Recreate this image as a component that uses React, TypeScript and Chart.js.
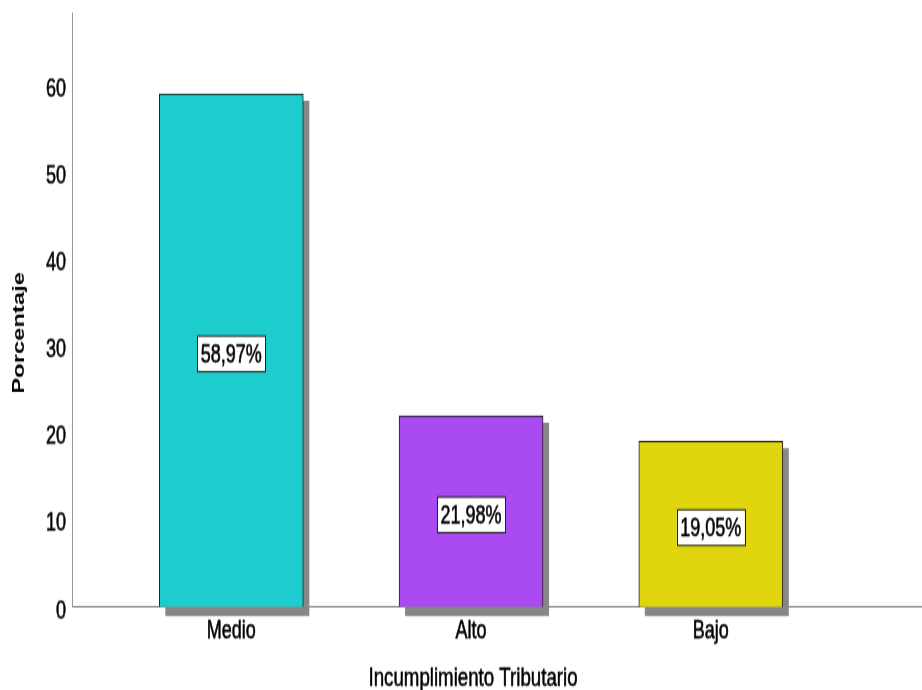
import React, { useEffect, useRef } from 'react';
import { Chart, registerables } from 'chart.js';

Chart.register(...registerables);

// ---- data ----
const categories = ['Medio', 'Alto', 'Bajo'];
const positions = [1, 2, 3];
const percentages = [58.97, 21.98, 19.05];
const barColors = ['#1dcdcd', '#a94bf0', '#e1d60e'];
const yTickStep = 10;
const yMax = 68.2;
const xTitle = 'Incumplimiento Tributario';
const yTitle = 'Porcentaje';

// ---- layout ----
const W = 922;
const H = 690;
const IH = 493; // internal canvas height, stretched vertically to H
const FONT = '"Liberation Sans", Arial, Helvetica, sans-serif';
const STROKE = 0.45;

const fmt = (v: number) => v.toFixed(2).replace('.', ',') + '%';

const drawText = (ctx: CanvasRenderingContext2D, text: string, x: number, y: number) => {
  ctx.lineWidth = STROKE;
  ctx.strokeStyle = '#000000';
  ctx.strokeText(text, x, y);
  ctx.fillText(text, x, y);
};

const shadowPlugin = {
  id: 'barShadow',
  beforeDatasetsDraw(chart: any) {
    const ctx = chart.ctx;
    const meta = chart.getDatasetMeta(0);
    ctx.save();
    ctx.fillStyle = '#878787';
    meta.data.forEach((bar: any) => {
      const { x, y, base, width } = bar.getProps(['x', 'y', 'base', 'width'], true);
      ctx.fillRect(x - width / 2 + 6, y + 5, width, base - y + 1.5);
    });
    ctx.restore();
  },
};

const labelPlugin = {
  id: 'barLabels',
  afterDatasetsDraw(chart: any) {
    const ctx = chart.ctx;
    const meta = chart.getDatasetMeta(0);
    const values = chart.data.datasets[0].data as any[];
    ctx.save();
    ctx.font = `18px ${FONT}`;
    ctx.textAlign = 'center';
    ctx.textBaseline = 'middle';
    meta.data.forEach((bar: any, i: number) => {
      const { x, y, base } = bar.getProps(['x', 'y', 'base'], true);
      const text = fmt(values[i].y);
      const tw = ctx.measureText(text).width;
      const bw = Math.round(tw + 7);
      const bh = 25.5;
      const cx = x;
      const cy = (y + base) / 2 + 2.5;
      ctx.fillStyle = '#ffffff';
      ctx.fillRect(cx - bw / 2, cy - bh / 2, bw, bh);
      ctx.strokeStyle = '#222222';
      ctx.lineWidth = 1;
      ctx.strokeRect(Math.round(cx - bw / 2) + 0.5, cy - bh / 2, bw, bh);
      ctx.fillStyle = '#000000';
      drawText(ctx, text, cx, cy + 1);
    });
    ctx.restore();
  },
};

const titlesPlugin = {
  id: 'axisTitles',
  afterDraw(chart: any) {
    const ctx = chart.ctx;
    const xs = chart.scales.x;
    const ys = chart.scales.y;
    ctx.save();
    ctx.fillStyle = '#000000';
    ctx.textAlign = 'center';
    ctx.textBaseline = 'middle';
    ctx.font = `18.7px ${FONT}`;
    drawText(ctx, xTitle, xs.getPixelForValue(2) + 2, xs.bottom - 8.5);
    ctx.translate(19.5, ys.getPixelForValue(31.5));
    ctx.rotate(-Math.PI / 2);
    ctx.font = `bold 17px ${FONT}`;
    ctx.fillText(yTitle, 0, 0);
    ctx.restore();
  },
};

export default function App() {
  const ref = useRef<HTMLCanvasElement | null>(null);

  useEffect(() => {
    document.body.style.margin = '0';
    const canvas = ref.current;
    if (!canvas) return;
    const chart = new Chart(canvas, {
      type: 'bar',
      data: {
        datasets: [
          {
            data: positions.map((x, i) => ({ x, y: percentages[i] })),
            backgroundColor: barColors,
            borderColor: '#222222',
            borderWidth: 1,
            barThickness: 144,
          } as any,
        ],
      },
      options: {
        responsive: false,
        animation: false,
        devicePixelRatio: 1,
        layout: { padding: { top: 9.6, left: 0, right: 0, bottom: 0 } },
        plugins: {
          legend: { display: false },
          tooltip: { enabled: false },
        },
        scales: {
          x: {
            type: 'linear',
            offset: false,
            min: 0.3355,
            max: 3.881,
            grid: { display: false, drawTicks: false, offset: false },
            border: { display: true, color: '#7f7f7f', width: 1 },
            ticks: {
              stepSize: 1,
              includeBounds: false,
              autoSkip: false,
              maxRotation: 0,
              padding: 7,
              color: '#000000',
              textStrokeColor: '#000000',
              textStrokeWidth: STROKE,
              font: { family: FONT, size: 18 },
              callback: (v: any) => {
                const idx = positions.indexOf(Number(v));
                return idx >= 0 ? categories[idx] : '';
              },
            },
            afterFit: (s: any) => {
              s.height = IH - 433.7;
              s.paddingLeft = 0;
              s.paddingRight = 0;
            },
          } as any,
          y: {
            type: 'linear',
            min: 0,
            max: yMax,
            grid: { display: false, drawTicks: false },
            border: { display: true, color: '#9a9a9a', width: 1 },
            ticks: {
              stepSize: yTickStep,
              includeBounds: false,
              padding: 6,
              labelOffset: 3,
              color: '#000000',
              textStrokeColor: '#000000',
              textStrokeWidth: STROKE,
              font: { family: FONT, size: 18 },
            },
            afterFit: (s: any) => {
              s.width = 72;
              s.paddingTop = 0;
              s.paddingBottom = 0;
            },
          } as any,
        },
      },
      plugins: [shadowPlugin, labelPlugin, titlesPlugin],
    });
    return () => chart.destroy();
  }, []);

  return (
    <div style={{ position: 'absolute', left: 0, top: 0, width: W, height: H, background: '#fff' }}>
      <canvas
        ref={ref}
        width={W}
        height={IH}
        style={{ width: `${W}px`, height: `${H}px`, display: 'block' }}
      />
    </div>
  );
}
